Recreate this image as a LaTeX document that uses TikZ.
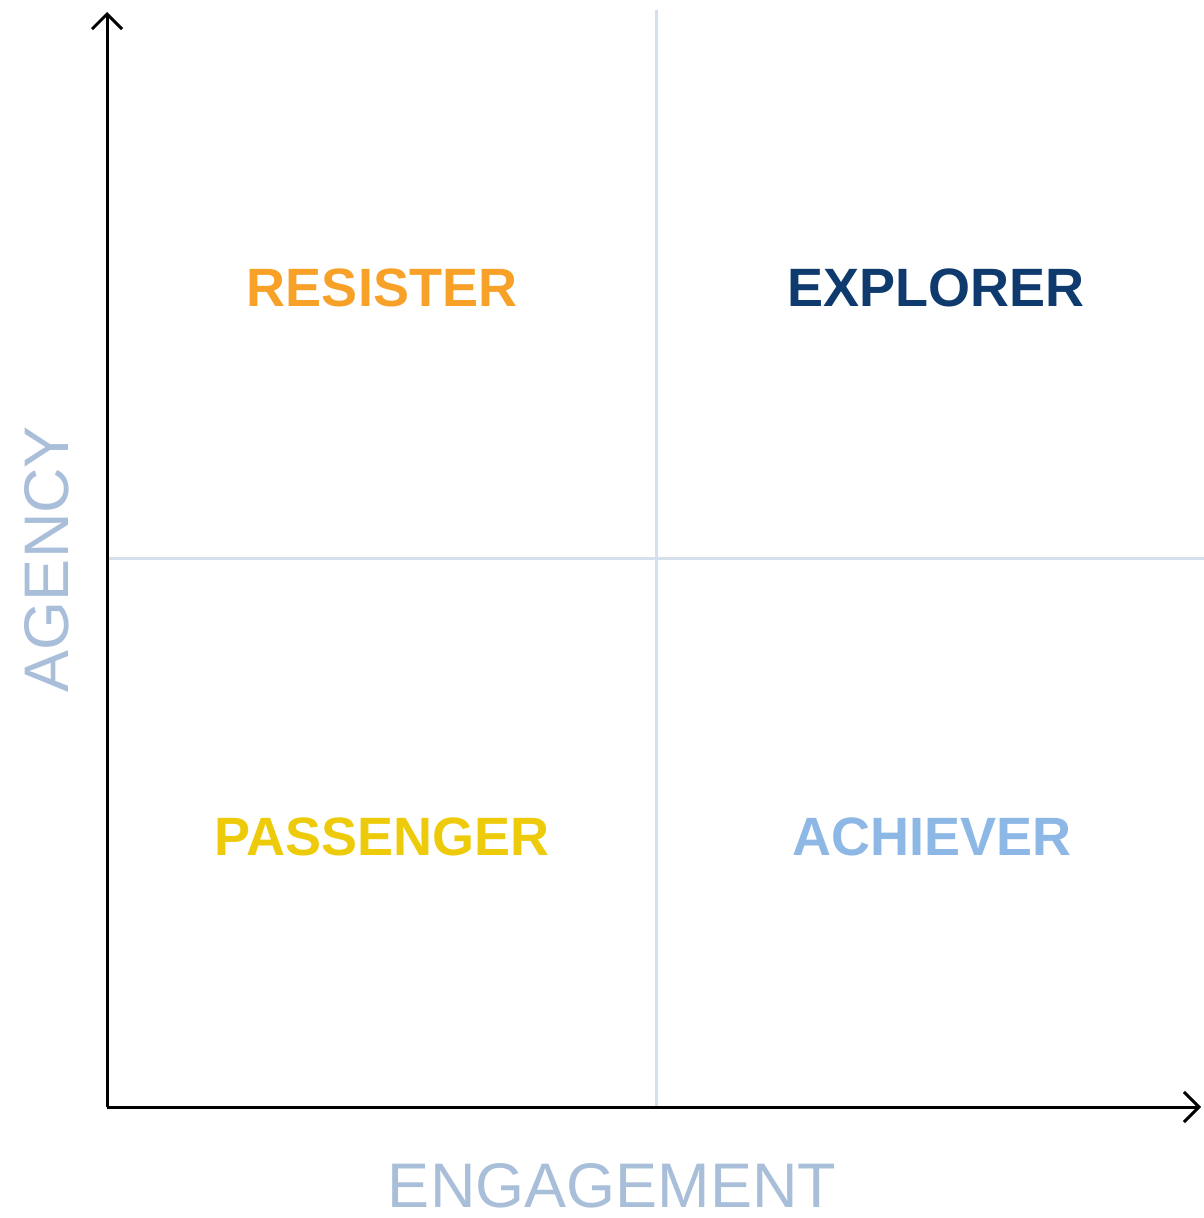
\documentclass[tikz,border=0pt]{standalone}
\usepackage{fontspec}
\setmainfont{Liberation Sans}
\usetikzlibrary{arrows.meta}
\definecolor{gridc}{HTML}{D6DFEC}
\definecolor{axisc}{HTML}{A9BED9}
\definecolor{resc}{HTML}{F7A128}
\definecolor{expc}{HTML}{0E3A6E}
\definecolor{pasc}{HTML}{EECB0A}
\definecolor{achc}{HTML}{8DB8E6}
\begin{document}
\begin{tikzpicture}[x=1pt,y=-1pt,
  axisline/.style={line width=3pt, draw=black, -{Straight Barb[length=15pt,width=30pt,line width=3pt]}},
  gridline/.style={line width=3pt, draw=gridc},
  quad/.style={inner sep=0pt, font=\fontsize{54}{60}\selectfont\bfseries},
  axlabel/.style={inner sep=0pt, text=axisc, font=\fontsize{63}{70}\selectfont}]
\useasboundingbox (0,0) rectangle (1204,1218);
\coordinate (O) at (107,1107);
\coordinate (ytop) at (107,12);
\coordinate (xend) at (1201,1107);
\coordinate (vt) at (656,10);
\coordinate (vb) at (656,1107);
\coordinate (hl) at (107,558);
\coordinate (hr) at (1204,558);
\draw[gridline] (vt) -- (vb);
\draw[gridline] (hl) -- (hr);
\draw[axisline] (O) -- (ytop);
\draw[axisline] (O) -- (xend);
\node[quad, text=resc] (res) at (382,288) {RESISTER};
\node[quad, text=expc] (exp) at (936,288) {EXPLORER};
\node[quad, text=pasc] (pas) at (382,837) {PASSENGER};
\node[quad, text=achc] (ach) at (932,837) {ACHIEVER};
\node[axlabel, rotate=90] (agency) at (47,559) {AGENCY};
\node[axlabel] (engage) at (612,1186) {ENGAGEMENT};
\end{tikzpicture}
\end{document}
